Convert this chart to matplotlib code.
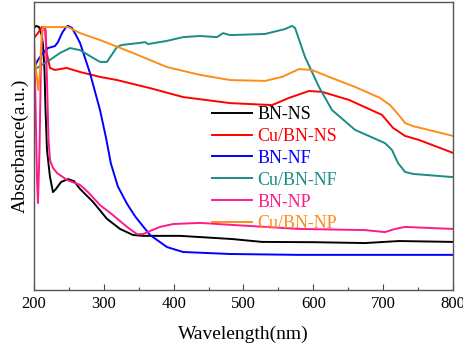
import matplotlib
matplotlib.use("Agg")
import matplotlib.pyplot as plt
from matplotlib.ticker import MultipleLocator

plt.rcParams['font.family'] = ['Liberation Serif', 'DejaVu Serif']

# Wavelength (nm) / Absorbance (a.u.)
bn_ns_x = [200, 202.9, 207.2, 211, 212.9, 215, 216.5, 218.6, 222.9, 227.2, 231.5, 238.7, 248.7, 257.3,
           265.9, 284.5, 304.5, 323.2, 341.8, 356.1, 409, 450, 483.5, 526.5, 600, 674, 722.7, 800]
bn_ns_y = [0.910, 0.917, 0.913, 0.885, 0.851, 0.764, 0.625, 0.486, 0.392, 0.340, 0.351, 0.375, 0.385, 0.378,
           0.351, 0.306, 0.247, 0.212, 0.191, 0.188, 0.188, 0.182, 0.177, 0.167, 0.166, 0.163, 0.170, 0.167]

cu_bn_ns_x = [200, 205.7, 211, 215.8, 218.2, 222.9, 230, 246.8, 265.9, 294.5, 318.9, 366.1, 413.4, 480.7,
              540.8, 565.2, 593.8, 612.4, 651.1, 698.3, 714.1, 731.3, 751.3, 800]
cu_bn_ns_y = [0.875, 0.892, 0.913, 0.913, 0.823, 0.771, 0.764, 0.771, 0.757, 0.740, 0.729, 0.701, 0.670, 0.649,
              0.642, 0.667, 0.691, 0.688, 0.660, 0.608, 0.563, 0.535, 0.521, 0.476]

bn_nf_x = [200, 205.7, 212.9, 220, 230, 234.4, 240.1, 245.8, 248.7, 254.4, 260.1, 265.9, 280.2, 294.5,
           303, 310, 320, 333, 345, 366.1, 390.5, 413.4, 480.7, 579.5, 800]
bn_nf_y = [0.771, 0.799, 0.823, 0.840, 0.847, 0.861, 0.892, 0.913, 0.917, 0.910, 0.885, 0.858, 0.753, 0.625,
           0.530, 0.440, 0.360, 0.300, 0.255, 0.191, 0.149, 0.132, 0.125, 0.122, 0.122]

cu_bn_nf_x = [200, 208.6, 222.9, 237.2, 251.6, 265.9, 284.5, 294.5, 304.5, 318.9, 326, 351.8, 359, 363.2,
              390.5, 413.4, 437.7, 462.1, 470.7, 480.7, 530.8, 559.4, 569.5, 573.8, 588.1, 608.1, 626.7,
              659.7, 702.6, 712.7, 721.2, 731.3, 742.7, 800]
cu_bn_nf_y = [0.764, 0.778, 0.799, 0.823, 0.840, 0.833, 0.806, 0.792, 0.792, 0.844, 0.851, 0.858, 0.861, 0.854,
              0.865, 0.878, 0.882, 0.878, 0.892, 0.885, 0.889, 0.906, 0.917, 0.910, 0.809, 0.705, 0.625,
              0.556, 0.510, 0.486, 0.441, 0.410, 0.403, 0.392]

bn_np_x = [200, 202.1, 204.3, 205.7, 207.9, 210, 212.2, 214.3, 216.5, 218.6, 220.8, 222.9, 227.2, 233,
           241.5, 247.3, 265.9, 277.3, 294.5, 313.1, 333.2, 347.5, 356.1, 366.1, 380.4, 399, 437.7,
           483.5, 579.5, 674, 702.6, 717, 731.3, 800]
bn_np_y = [0.885, 0.660, 0.382, 0.302, 0.486, 0.799, 0.910, 0.913, 0.903, 0.729, 0.521, 0.451, 0.424, 0.406,
           0.392, 0.382, 0.365, 0.340, 0.295, 0.260, 0.219, 0.194, 0.194, 0.205, 0.219, 0.229, 0.233,
           0.226, 0.212, 0.208, 0.201, 0.212, 0.219, 0.212]

cu_bn_np_x = [200, 201.4, 203.6, 206.2, 208.6, 211, 212.9, 230, 248.7, 265.9, 294.5, 341.8, 390.5, 437.7,
              480.7, 530.8, 555.1, 579.5, 598.1, 626.7, 659.7, 695.5, 709.8, 719.8, 731.3, 742.7, 800]
cu_bn_np_y = [0.806, 0.799, 0.747, 0.694, 0.764, 0.885, 0.913, 0.913, 0.913, 0.892, 0.868, 0.823, 0.774, 0.747,
              0.729, 0.726, 0.740, 0.767, 0.764, 0.736, 0.705, 0.667, 0.642, 0.615, 0.580, 0.569, 0.535]

labels = ['BN-NS', 'Cu/BN-NS', 'BN-NF', 'Cu/BN-NF', 'BN-NP', 'Cu/BN-NP']
colors = ['#000000', '#FF0000', '#0000FF', '#1A8C85', '#FF1A8C', '#FF8C1A']
series = [(bn_ns_x, bn_ns_y), (cu_bn_ns_x, cu_bn_ns_y), (bn_nf_x, bn_nf_y),
          (cu_bn_nf_x, cu_bn_nf_y), (bn_np_x, bn_np_y), (cu_bn_np_x, cu_bn_np_y)]

fig = plt.figure(figsize=(4.64, 3.44), dpi=100)
ax = fig.add_axes([34/464, 1 - 290/344, (453-34)/464, (290-2)/344])

for (x, y), lab, c in zip(series, labels, colors):
    ax.plot(x, y, color=c, lw=1.4, label=lab)

ax.set_xlim(200, 800)
ax.set_ylim(0, 1)
ax.set_yticks([])
ax.xaxis.set_major_locator(MultipleLocator(100))
ax.xaxis.set_minor_locator(MultipleLocator(50))
ax.tick_params(axis='x', which='both', direction='in', top=False, labelsize=12, pad=4)
ax.tick_params(axis='x', which='major', length=4, width=0.8, color='#444444')
ax.tick_params(axis='x', which='minor', length=2, width=0.8, color='#444444')
for s in ax.spines.values():
    s.set_color('#555555')
    s.set_linewidth(1.0)

ax.set_xlabel('Wavelength(nm)', fontsize=14, labelpad=10)
ax.set_ylabel('Absorbance(a.u.)', fontsize=14, labelpad=4)

leg = ax.legend(loc='upper left', bbox_to_anchor=((212-34)/419, (290-106)/288),
                frameon=False, fontsize=13, handlelength=2.2, handletextpad=0.3,
                labelspacing=0.27, borderpad=0, borderaxespad=0, labelcolor='linecolor')

fig.savefig('out.png', dpi=100)
